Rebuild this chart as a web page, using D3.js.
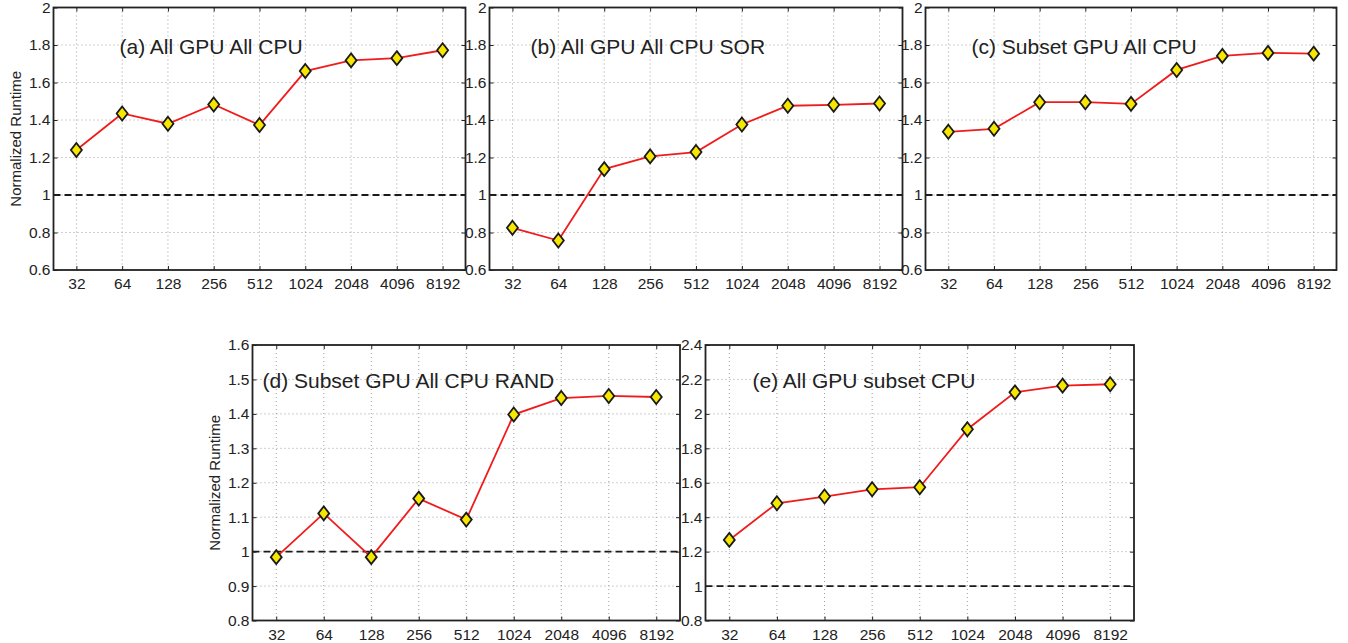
<!DOCTYPE html>
<html>
<head>
<meta charset="utf-8">
<script src="https://cdn.jsdelivr.net/npm/d3@7"></script>
<style>
  body { margin: 0; background: #fff; }
  text { font-family: "Liberation Sans", Arial, sans-serif; fill: #222; }
</style>
</head>
<body>
<svg id="chart" width="1348" height="643"></svg>
<script>
// x categories (block sizes)
const sizes = ['32', '64', '128', '256', '512', '1024', '2048', '4096', '8192']

// normalized runtime per panel
const allGpuAllCpu = [1.24, 1.435, 1.38, 1.483, 1.373, 1.661, 1.718, 1.73, 1.772]
const allGpuAllCpuSor = [0.825, 0.757, 1.138, 1.206, 1.229, 1.376, 1.476, 1.481, 1.488]
const subsetGpuAllCpu = [1.337, 1.353, 1.495, 1.495, 1.486, 1.667, 1.742, 1.758, 1.754]
const subsetGpuAllCpuRand = [0.984, 1.111, 0.984, 1.154, 1.093, 1.398, 1.446, 1.452, 1.449]
const allGpuSubsetCpu = [1.268, 1.481, 1.52, 1.562, 1.574, 1.911, 2.125, 2.164, 2.172]

// y tick labels
const ticksTop = [0.6, 0.8, 1, 1.2, 1.4, 1.6, 1.8, 2]
const ticksRand = [0.8, 0.9, 1, 1.1, 1.2, 1.3, 1.4, 1.5, 1.6]
const ticksSubsetCpu = [0.8, 1, 1.2, 1.4, 1.6, 1.8, 2, 2.2, 2.4]

const titles = ['(a) All GPU All CPU', '(b) All GPU All CPU SOR', '(c) Subset GPU All CPU',
    '(d) Subset GPU All CPU RAND', '(e) All GPU subset CPU']
const yLabel = 'Normalized Runtime'
const baseline = 1

const svg = d3.select('#chart')

// panel layout
const panels = [
    { left: 53.5, top: 7.5, width: 412, height: 262.5, values: allGpuAllCpu, ticks: ticksTop, title: titles[0], titleDx: 66, titleY: 1.8, label: true },
    { left: 489.5, top: 7.5, width: 413, height: 262.5, values: allGpuAllCpuSor, ticks: ticksTop, title: titles[1], titleDx: 41, titleY: 1.8 },
    { left: 925.5, top: 7.5, width: 411, height: 262.5, values: subsetGpuAllCpu, ticks: ticksTop, title: titles[2], titleDx: 46, titleY: 1.8 },
    { left: 252.5, top: 345, width: 427.5, height: 275.5, values: subsetGpuAllCpuRand, ticks: ticksRand, title: titles[3], titleDx: 10, titleY: 1.5, label: true },
    { left: 705.5, top: 345, width: 428.5, height: 275.5, values: allGpuSubsetCpu, ticks: ticksSubsetCpu, title: titles[4], titleDx: 47, titleY: 2.2 }
]

function drawPanel(p) {
    const g = svg.append('g').attr('transform', `translate(${p.left},${p.top})`)

    const xScale = d3.scalePoint()
        .domain(sizes)
        .range([0, p.width])
        .padding(0.5)

    const yScale = d3.scaleLinear()
        .domain(d3.extent(p.ticks))
        .range([p.height, 0])

    // dotted grid
    g.append('g')
        .selectAll('line')
        .data(sizes)
        .join('line')
        .attr('x1', d => xScale(d)).attr('x2', d => xScale(d))
        .attr('y1', 0).attr('y2', p.height)
        .attr('stroke', '#a0a0a0')
        .attr('stroke-width', 1)
        .attr('stroke-dasharray', '1,3')
    g.append('g')
        .selectAll('line')
        .data(p.ticks)
        .join('line')
        .attr('x1', 0).attr('x2', p.width)
        .attr('y1', d => yScale(d)).attr('y2', d => yScale(d))
        .attr('stroke', '#a0a0a0')
        .attr('stroke-width', 1)
        .attr('stroke-dasharray', '1,3')

    // reference line at 1
    g.append('line')
        .attr('x1', 0).attr('x2', p.width)
        .attr('y1', yScale(baseline)).attr('y2', yScale(baseline))
        .attr('stroke', '#1a1a1a')
        .attr('stroke-width', 1.8)
        .attr('stroke-dasharray', '7,4')

    // axes (ticks inside)
    const tl = 4
    g.append('g')
        .attr('transform', `translate(0,${p.height})`)
        .call(d3.axisBottom(xScale).tickSizeInner(-tl).tickSizeOuter(0).tickPadding(8))
    g.append('g')
        .call(d3.axisTop(xScale).tickSizeInner(-tl).tickSizeOuter(0).tickFormat(''))
    g.append('g')
        .call(d3.axisLeft(yScale).tickValues(p.ticks).tickSizeInner(-tl).tickSizeOuter(0).tickPadding(3).tickFormat(d3.format('~g')))
    g.append('g')
        .attr('transform', `translate(${p.width},0)`)
        .call(d3.axisRight(yScale).tickValues(p.ticks).tickSizeInner(-tl).tickSizeOuter(0).tickFormat(''))

    g.selectAll('.domain').remove()
    g.selectAll('.tick line').attr('stroke', '#222').attr('stroke-width', 1)
    g.selectAll('.tick text').style('font-size', '15.5px').attr('fill', '#222')

    // frame
    g.append('rect')
        .attr('width', p.width)
        .attr('height', p.height)
        .attr('fill', 'none')
        .attr('stroke', '#222')
        .attr('stroke-width', 1.8)

    // title
    g.append('text')
        .attr('x', p.titleDx)
        .attr('y', yScale(p.titleY) + 1)
        .attr('dominant-baseline', 'central')
        .style('font-size', '21px')
        .text(p.title)

    if (p.label) {
        g.append('text')
            .attr('transform', `translate(${-33},${p.height / 2}) rotate(-90)`)
            .attr('text-anchor', 'middle')
            .style('font-size', '15px')
            .text(yLabel)
    }

    const line = d3.line()
        .x((d, i) => xScale(sizes[i]))
        .y(d => yScale(d))

    g.append('path')
        .attr('d', line(p.values))
        .attr('fill', 'none')
        .attr('stroke', '#f01c1c')
        .attr('stroke-width', 1.8)

    // diamond markers
    const diamond = 'M0,-7L5.5,0L0,7L-5.5,0Z'
    g.selectAll('.marker')
        .data(p.values)
        .join('path')
        .attr('class', 'marker')
        .attr('d', diamond)
        .attr('transform', (d, i) => `translate(${xScale(sizes[i])},${yScale(d)})`)
        .attr('fill', '#f7e600')
        .attr('stroke', '#1a1a1a')
        .attr('stroke-width', 1.8)
}

panels.forEach(drawPanel)
</script>
</body>
</html>
